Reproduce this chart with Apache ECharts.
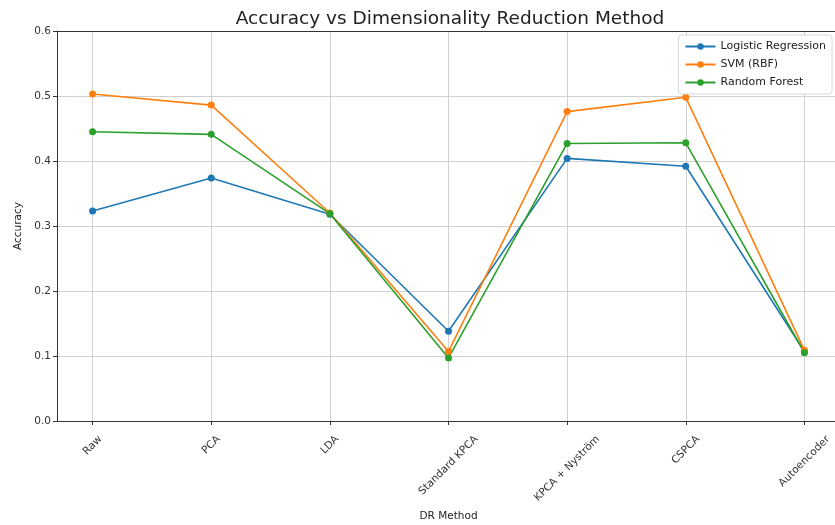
<!DOCTYPE html>
<html>
<head>
<meta charset="utf-8">
<script src="https://cdn.jsdelivr.net/npm/echarts@6/dist/echarts.min.js"></script>
<style>html,body{margin:0;padding:0;background:#fff}#c{width:835px;height:525px}</style>
</head>
<body>
<div id="c"></div>
<script>
const categories = ['Raw', 'PCA', 'LDA', 'Standard KPCA', 'KPCA + Nyström', 'CSPCA', 'Autoencoder'];
const logisticRegression = [0.323, 0.374, 0.318, 0.138, 0.404, 0.392, 0.107];
const svmRbf = [0.503, 0.486, 0.320, 0.107, 0.476, 0.498, 0.109];
const randomForest = [0.445, 0.441, 0.319, 0.097, 0.427, 0.428, 0.105];
const yTicks = [0, 0.1, 0.2, 0.3, 0.4, 0.5, 0.6];

const font = 'DejaVu Sans';
const labelSize = 10.5;
const idx = categories.map((_, i) => i);
const pairs = arr => arr.map((v, i) => [i, v]);

// Rotated category labels centred under their ticks (matplotlib style, rotation=45, ha=center)
const ctx = document.createElement('canvas').getContext('2d');
ctx.font = labelSize + 'px "' + font + '"';
const lineH = 13, labelGap = 12, labelMargin = 2;
const rich = { t: { fontFamily: font, fontSize: labelSize, lineHeight: lineH, color: '#333' } };
categories.forEach((c, i) => {
  const L = ctx.measureText(c).width;
  const d = labelGap - labelMargin + 0.3536 * (L + lineH);
  const s = 1.4142 * d;
  rich['p' + i] = { width: 1, height: s, lineHeight: s, fontSize: 1 };
  rich['s' + i] = { width: s, fontSize: labelSize };
});

const mkSeries = (name, data, color) => ({
  name, type: 'line', data: pairs(data),
  symbol: 'circle', symbolSize: 7,
  lineStyle: { width: 1.6, color },
  itemStyle: { color },
  emphasis: { disabled: true }
});

const chart = echarts.init(document.getElementById('c'));
chart.setOption({
  animation: false,
  textStyle: { fontFamily: font },
  title: {
    text: 'Accuracy vs Dimensionality Reduction Method',
    left: 445, textAlign: 'center', top: 5,
    textStyle: { fontFamily: font, fontSize: 18.5, fontWeight: 'normal', color: '#222' }
  },
  legend: {
    right: 3, top: 35, orient: 'vertical',
    backgroundColor: '#fff', borderColor: '#d8d8d8', borderWidth: 1, borderRadius: 3,
    padding: [6, 6, 6, 6], itemGap: 7, itemWidth: 30, itemHeight: 8,
    textStyle: { fontFamily: font, fontSize: 11, color: '#222' },
    data: ['Logistic Regression', 'SVM (RBF)', 'Random Forest']
  },
  grid: { left: 57, right: -5, top: 31, bottom: 104, containLabel: false, outerBoundsMode: 'none' },
  xAxis: [{
    type: 'value', min: -0.3, max: 6.3,
    name: 'DR Method', nameLocation: 'middle', nameGap: 89,
    nameTextStyle: { fontFamily: font, fontSize: labelSize, color: '#222' },
    axisLine: { show: true, onZero: false, lineStyle: { color: '#333', width: 1 } },
    axisTick: { show: true, customValues: idx, length: 4, lineStyle: { color: '#333' } },
    axisLabel: {
      customValues: idx, rotate: 45, margin: labelMargin,
      align: 'center', verticalAlign: 'middle', rich,
      formatter: v => { const i = Math.round(v); return '{p' + i + '| }\n{t|' + categories[i] + '}{s' + i + '| }'; }
    },
    splitLine: { show: true, lineStyle: { color: '#d0d0d0', width: 1 } }
  }, {
    type: 'value', min: -0.3, max: 6.3, position: 'top',
    axisLine: { show: true, onZero: false, lineStyle: { color: '#333', width: 1 } },
    axisTick: { show: false }, axisLabel: { show: false }, splitLine: { show: false }
  }],
  yAxis: {
    type: 'value', min: yTicks[0], max: yTicks[yTicks.length - 1], interval: 0.1,
    name: 'Accuracy', nameLocation: 'middle', nameGap: 28,
    nameTextStyle: { fontFamily: font, fontSize: labelSize, color: '#222' },
    axisLine: { show: true, onZero: false, lineStyle: { color: '#333', width: 1 } },
    axisTick: { show: true, length: 4, lineStyle: { color: '#333' } },
    axisLabel: { fontSize: labelSize, color: '#333', margin: 6, formatter: v => v.toFixed(1) },
    splitLine: { show: true, lineStyle: { color: '#d0d0d0', width: 1 } }
  },
  series: [
    mkSeries('Logistic Regression', logisticRegression, '#1f77b4'),
    mkSeries('SVM (RBF)', svmRbf, '#ff7f0e'),
    mkSeries('Random Forest', randomForest, '#2ca02c')
  ]
});
</script>
</body>
</html>
